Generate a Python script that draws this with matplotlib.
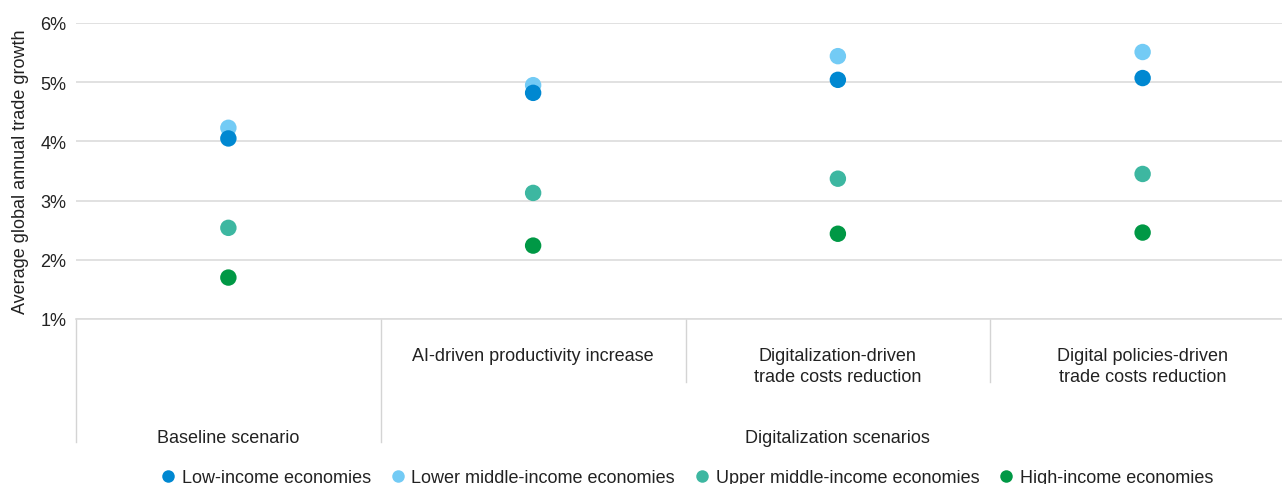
import numpy as np
import matplotlib
matplotlib.use('Agg')
import matplotlib.pyplot as plt
import matplotlib.transforms as mtransforms
from matplotlib.lines import Line2D

plt.rcParams['font.family'] = ['Liberation Sans', 'DejaVu Sans']

# 数据
scenarios = ['Baseline scenario', 'AI-driven productivity increase',
             'Digitalization-driven\ntrade costs reduction',
             'Digital policies-driven\ntrade costs reduction']
series_names = ['Low-income economies', 'Lower middle-income economies',
                'Upper middle-income economies', 'High-income economies']
low_income = [4.05, 4.82, 5.04, 5.07]
lower_middle = [4.23, 4.95, 5.44, 5.51]
upper_middle = [2.54, 3.13, 3.37, 3.45]
high_income = [1.70, 2.24, 2.44, 2.46]
group_labels = ['Baseline scenario', 'Digitalization scenarios']

colors = ['#0088d1', '#73cbf5', '#3db7a1', '#009845']
grid_c = '#dcdcdc'
txt_c = '#222222'
fs = 13

fig = plt.figure(figsize=(12.82, 4.85), dpi=100)
ax = fig.add_axes([76 / 1282, 1 - 320 / 485, 1219 / 1282, 296 / 485])

x = np.arange(len(scenarios))
# 按图例顺序逆序绘制，使低收入在上层
for vals, c, name in list(zip([low_income, lower_middle, upper_middle, high_income], colors, series_names))[::-1]:
    ax.scatter(x, vals, s=140, color=c, edgecolors='none', zorder=3, label=name)

ax.set_xlim(-0.5, 3.5)
ax.set_ylim(1, 6)
ax.set_yticks([1, 2, 3, 4, 5, 6])
ax.set_yticklabels([f'{v}%' for v in range(1, 7)], fontsize=fs, color=txt_c)
ax.set_xticks([])
ax.tick_params(axis='y', length=0, pad=7)
ax.grid(axis='y', color=grid_c, linewidth=1.2)
ax.set_axisbelow(True)
for s in ['top', 'right', 'left']:
    ax.spines[s].set_visible(False)
ax.spines['bottom'].set_color(grid_c)
ax.spines['bottom'].set_linewidth(1.2)
ax.set_ylabel('Average global annual trade growth', fontsize=fs, color=txt_c, labelpad=8)

# 类别分隔线
trans = mtransforms.blended_transform_factory(ax.transData, ax.transAxes)
sep_c = '#d4d4d4'
for xb, yb in [(-0.5, -0.415), (0.5, -0.415), (1.5, -0.213), (2.5, -0.213)]:
    ax.add_line(Line2D([xb, xb], [0, yb], transform=trans, color=sep_c, lw=1, clip_on=False))

# 类别标签
for i, lab in enumerate(scenarios[1:], start=1):
    ax.text(i, -0.095, lab, transform=trans, ha='center', va='top', fontsize=fs,
            color=txt_c, linespacing=1.3)
ax.text(0, -0.40, group_labels[0], transform=trans, ha='center', va='center', fontsize=fs, color=txt_c)
ax.text(2, -0.40, group_labels[1], transform=trans, ha='center', va='center', fontsize=fs, color=txt_c)

handles = [Line2D([0], [0], marker='o', color='w', markerfacecolor=c, markeredgecolor='none',
                  markersize=9, label=n) for c, n in zip(colors, series_names)]
fig.legend(handles=handles, loc='center', bbox_to_anchor=(687 / 1282, 1 - 479 / 485), ncol=4,
           frameon=False, fontsize=fs, handlelength=0.8, handletextpad=0.35, columnspacing=1.1,
           labelcolor=txt_c)

fig.savefig('out.png', dpi=100)
